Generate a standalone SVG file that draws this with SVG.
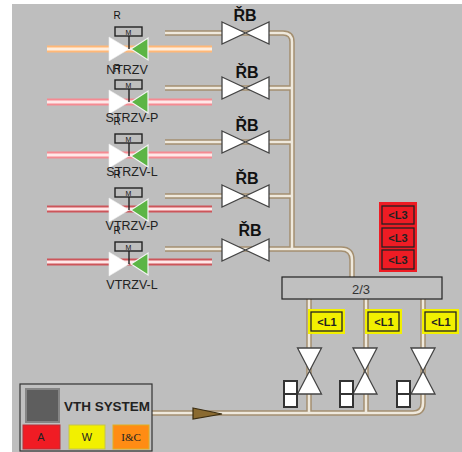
<svg xmlns="http://www.w3.org/2000/svg" xmlns:xlink="http://www.w3.org/1999/xlink" width="462" height="452" viewBox="0 0 462 452">
<style>
text{font-family:"Liberation Sans",Arial,sans-serif;text-anchor:middle}
.po{fill:none;stroke:#a48f70;stroke-width:5.5}
.pi{fill:none;stroke:#efe9dd;stroke-width:2.5}
.lbl{font-size:12.5px;fill:#222}
.r{font-size:10px;fill:#111}
.rb{font-size:16px;font-weight:bold;fill:#111}
.bow{fill:#fff;stroke:#444;stroke-width:1.3}
.g{fill:#5cb545;stroke:#f4f4f4;stroke-width:1.2}
.w{fill:#fff;stroke:#eee;stroke-width:.6}
.act{fill:none;stroke:#222;stroke-width:1.4}
.sq{fill:#fff;stroke:#333;stroke-width:2}
.al{font-size:11px;font-weight:bold;fill:#222}
</style>
<defs>
<g id="mv">
<path class="w" d="M-20-12L0 0L-20 12Z"/>
<path class="g" d="M2 0L19-11V11Z"/>
<rect class="act" x="-14" y="-22" width="27" height="9"/>
<path d="M0-13V0" stroke="#222" stroke-width="1.4"/>
<text x="-.5" y="-14.5" font-size="7" fill="#111">M</text>
</g>
<path id="bt" class="bow" d="M-23.500-11L23.500 11V-11L-23.500 11Z"/>
<path id="bv" class="bow" d="M-12-23H12L-12 23H12Z"/>
<g id="sq2"><rect class="sq" x="0" y="0" width="13" height="13"/><rect class="sq" x="0" y="13" width="13" height="13"/></g>
</defs>
<rect x="12" y="4" width="450" height="448" fill="#bebebe"/>
<g id="connectors">
<path d="M47 49H212" fill="none" stroke="#ffb878" stroke-width="7"/><path d="M47 49H212" fill="none" stroke="#ffeedd" stroke-width="3"/>
<path d="M47 102H212" fill="none" stroke="#f58a92" stroke-width="7"/><path d="M47 102H212" fill="none" stroke="#ffe8e8" stroke-width="3"/>
<path d="M47 155H212" fill="none" stroke="#f58a92" stroke-width="7"/><path d="M47 155H212" fill="none" stroke="#ffe8e8" stroke-width="3"/>
<path d="M47 209H212" fill="none" stroke="#cc555a" stroke-width="7"/><path d="M47 209H212" fill="none" stroke="#ffe8e8" stroke-width="3"/>
<path d="M47 262H212" fill="none" stroke="#cc555a" stroke-width="7"/><path d="M47 262H212" fill="none" stroke="#ffe8e8" stroke-width="3"/>
<g id="pipes-o" class="po">
<path d="M165 33H283Q292 33 292 42V248"/>
<path d="M165 88H292M165 142H292M165 196H292"/>
<path d="M165 249H341Q352 249 352 260V277"/>
<path d="M309 299V413M366 299V413"/>
<path d="M423 299V403Q423 413 413 413H152"/>
</g>
<g class="pi">
<path d="M165 33H283Q292 33 292 42V248"/>
<path d="M165 88H292M165 142H292M165 196H292"/>
<path d="M165 249H341Q352 249 352 260V277"/>
<path d="M309 299V413M366 299V413"/>
<path d="M423 299V403Q423 413 413 413H152"/>
</g>
<path d="M193 408L222 414L193 419Z" fill="#8a6a30" stroke="#3a2c10" stroke-width="1.2"/>
</g>
<g id="NTRZV"><use xlink:href="#mv" href="#mv" x="129" y="49"/><text class="r" x="117" y="19">R</text><text class="lbl" x="127" y="74">NTRZV</text></g>
<g id="STRZV-P"><use xlink:href="#mv" href="#mv" x="129" y="102"/><text class="r" x="117" y="72">R</text><text class="lbl" x="132" y="122">STRZV-P</text></g>
<g id="STRZV-L"><use xlink:href="#mv" href="#mv" x="129" y="156"/><text class="r" x="117" y="125">R</text><text class="lbl" x="132" y="176">STRZV-L</text></g>
<g id="VTRZV-P"><use xlink:href="#mv" href="#mv" x="129" y="210"/><text class="r" x="117" y="178">R</text><text class="lbl" x="132" y="230">VTRZV-P</text></g>
<g id="VTRZV-L"><use xlink:href="#mv" href="#mv" x="129" y="264"/><text class="r" x="117" y="234">R</text><text class="lbl" x="132" y="289">VTRZV-L</text></g>
<g id="RB1"><use xlink:href="#bt" href="#bt" x="245.500" y="33"/><text class="rb" x="245" y="21">ŘB</text></g>
<g id="RB2"><use xlink:href="#bt" href="#bt" x="245.500" y="88"/><text class="rb" x="247" y="78">ŘB</text></g>
<g id="RB3"><use xlink:href="#bt" href="#bt" x="245.500" y="142"/><text class="rb" x="247" y="131">ŘB</text></g>
<g id="RB4"><use xlink:href="#bt" href="#bt" x="245.500" y="196"/><text class="rb" x="247" y="184">ŘB</text></g>
<g id="RB5"><use xlink:href="#bt" href="#bt" x="245.500" y="250"/><text class="rb" x="250" y="236">ŘB</text></g>
<g id="voter"><rect x="282" y="277" width="160" height="22" fill="#c0c0c0" stroke="#222" stroke-width="1.2"/><text x="361" y="294" font-size="13" fill="#333">2/3</text></g>
<g id="L3">
<rect x="379" y="202" width="38" height="70" fill="#ee1c24"/>
<rect x="382" y="206" width="32" height="18" fill="#ee1c24" stroke="#222" stroke-width="1.3"/><text class="al" x="398" y="219">&lt;L3</text>
<rect x="382" y="228" width="32" height="19" fill="#ee1c24" stroke="#222" stroke-width="1.3"/><text class="al" x="398" y="242">&lt;L3</text>
<rect x="382" y="250" width="32" height="19" fill="#ee1c24" stroke="#222" stroke-width="1.3"/><text class="al" x="398" y="264">&lt;L3</text>
</g>
<g id="L1-a"><rect x="308" y="309" width="37" height="25" fill="#f2f000"/><rect x="311" y="312" width="31" height="19" fill="#f2f000" stroke="#222" stroke-width="1.3"/><text class="al" x="327" y="326">&lt;L1</text></g>
<g id="L1-b"><rect x="365" y="309" width="37" height="25" fill="#f2f000"/><rect x="368" y="312" width="31" height="19" fill="#f2f000" stroke="#222" stroke-width="1.3"/><text class="al" x="384" y="326">&lt;L1</text></g>
<g id="L1-c"><rect x="422" y="309" width="37" height="25" fill="#f2f000"/><rect x="425" y="312" width="31" height="19" fill="#f2f000" stroke="#222" stroke-width="1.3"/><text class="al" x="441" y="326">&lt;L1</text></g>
<g id="V1"><use xlink:href="#bv" href="#bv" x="309.500" y="371"/><use xlink:href="#sq2" href="#sq2" x="284" y="381"/></g>
<g id="V2"><use xlink:href="#bv" href="#bv" x="365" y="371"/><use xlink:href="#sq2" href="#sq2" x="340" y="381"/></g>
<g id="V3"><use xlink:href="#bv" href="#bv" x="423" y="371"/><use xlink:href="#sq2" href="#sq2" x="397" y="381"/></g>
<g id="VTH">
<rect x="20" y="384" width="132" height="67" fill="#c0c0c0" stroke="#333" stroke-width="1.2"/>
<rect x="26" y="389" width="33" height="33" fill="#5e5e5e" stroke="#858585" stroke-width="2"/>
<text x="107" y="411" font-size="12" font-weight="bold" fill="#222" textLength="86" lengthAdjust="spacingAndGlyphs">VTH SYSTEM</text>
<rect x="23" y="425" width="37" height="24" fill="#f01c24" stroke="#b83038"/>
<text x="41" y="441" font-size="11" fill="#222">A</text>
<rect x="69" y="425" width="36" height="24" fill="#f2f000" stroke="#c4c44a"/>
<text x="87" y="441" font-size="11" fill="#222">W</text>
<rect x="113" y="425" width="36" height="24" fill="#ff8c14" stroke="#e0b020"/>
<text x="131" y="441" font-size="11" fill="#222" style="font-family:'Liberation Serif',serif">I&amp;C</text>
</g>
</svg>
